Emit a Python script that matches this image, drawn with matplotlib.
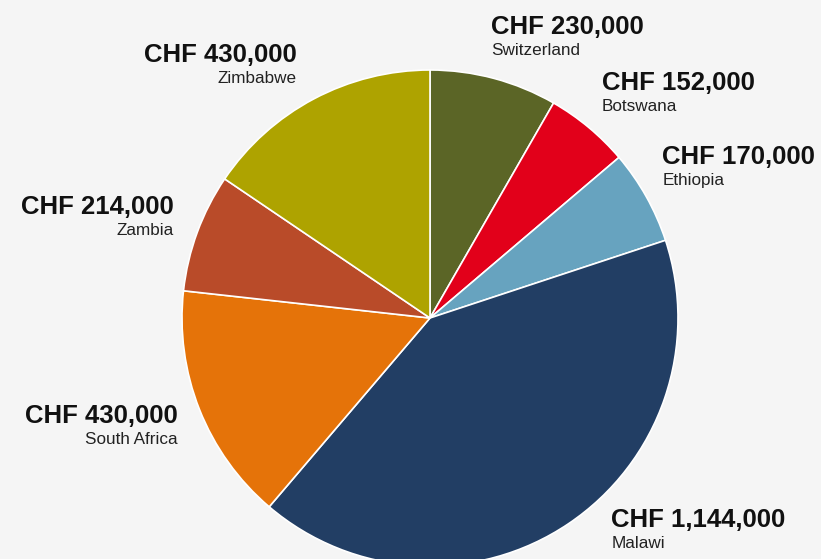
import matplotlib.pyplot as plt
import numpy as np

countries = ['Switzerland', 'Botswana', 'Ethiopia', 'Malawi',
             'South Africa', 'Zambia', 'Zimbabwe']
amounts = [230000, 152000, 170000, 1144000, 430000, 214000, 430000]
colors = ['#5b6526', '#e2001a', '#67a3bf', '#223e64',
          '#e57309', '#b94b29', '#aea300']

# label nudges in pixels (dx, dy of value baseline from the wedge edge)
nudges = [(-3, 44), (13, 37), (16, 33), (43, -3),
          (-22, -14), (-24, 18), (-17, 37)]

BG = '#f5f5f5'
fig = plt.figure(figsize=(8.21, 5.59), dpi=100, facecolor=BG)
ax = fig.add_axes([0, 0, 1, 1])
ax.set_facecolor(BG)

R_PX = 248
ax.pie(amounts, colors=colors, startangle=90, counterclock=False,
       radius=1, wedgeprops={'edgecolor': 'white', 'linewidth': 1.2})
ax.set_xlim(-430 / R_PX, 391 / R_PX)
ax.set_ylim(-241 / R_PX, 318 / R_PX)
ax.axis('off')

total = sum(amounts)
start = 0
for name, amt, (dx, dy) in zip(countries, amounts, nudges):
    sweep = amt / total * 360
    mid = np.radians(start + sweep / 2)
    start += sweep
    px, py = np.sin(mid), np.cos(mid)
    ha = 'left' if px >= 0 else 'right'
    ax.annotate(f'CHF {amt:,}', xy=(px, py), xytext=(dx, dy),
                textcoords='offset pixels', ha=ha, va='baseline',
                fontsize=18.5, fontweight='bold', color='#111111',
                family='Liberation Sans')
    ax.annotate(name, xy=(px, py), xytext=(dx, dy - 21),
                textcoords='offset pixels', ha=ha, va='baseline',
                fontsize=12.3, color='#222222', family='Liberation Sans')

fig.savefig('out.png', dpi=100, facecolor=BG)
